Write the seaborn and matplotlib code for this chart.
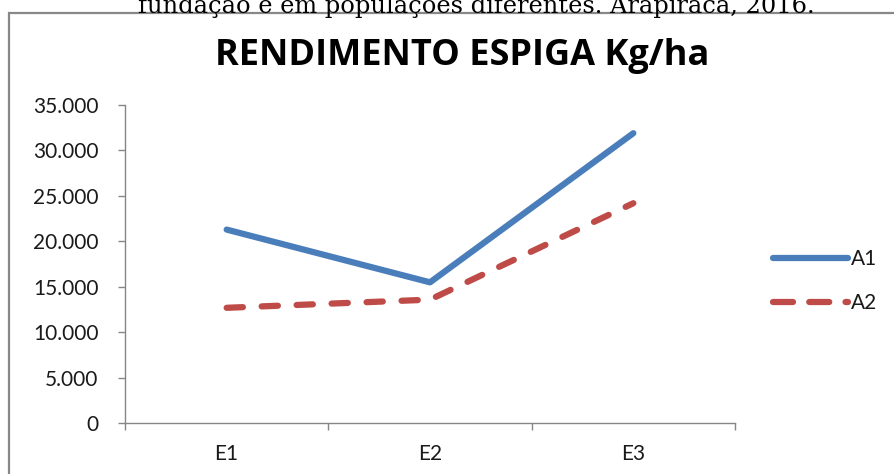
import matplotlib
matplotlib.use("Agg")
import matplotlib.pyplot as plt
from matplotlib.patches import Rectangle
import numpy as np
import pandas as pd
import seaborn as sns

# Ear yield (kg/ha) per treatment level and series
categories = ["E1", "E2", "E3"]
a1_values = [21300, 15500, 31900]
a2_values = [12700, 13600, 24200]
series_names = ["A1", "A2"]
y_ticks = [0, 5000, 10000, 15000, 20000, 25000, 30000, 35000]
y_tick_labels = ["0", "5.000", "10.000", "15.000", "20.000", "25.000", "30.000", "35.000"]

title = "RENDIMENTO ESPIGA Kg/ha"
caption = "fundação e em populações diferentes. Arapiraca, 2016."

df = pd.DataFrame({
    "pos": list(range(len(categories))) * 2,
    "valor": a1_values + a2_values,
    "serie": [series_names[0]] * len(categories) + [series_names[1]] * len(categories),
})

sns.set_theme(style="white")
plt.rcParams["font.family"] = ["Lato", "DejaVu Sans"]

fig = plt.figure(figsize=(8.94, 4.74), dpi=100)
ax = fig.add_axes([125 / 894, 1 - 423.3 / 474, 610 / 894, 318.3 / 474])

palette = {"A1": "#4A7EBB", "A2": "#BE4B48"}
sns.lineplot(
    data=df, x="pos", y="valor", hue="serie", style="serie",
    palette=palette, dashes={"A1": "", "A2": (2.6, 3.0)},
    linewidth=4.5, ax=ax, legend=True,
)
for line in ax.get_lines():
    line.set_solid_capstyle("round")
    line.set_dash_capstyle("round")
    line.set_solid_joinstyle("round")

ax.set_xlim(-0.5, len(categories) - 0.5)
ax.set_ylim(0, 35000)
ax.set_xlabel("")
ax.set_ylabel("")

# category boundaries carry the tick marks, centres carry the labels
ax.set_xticks(np.arange(-0.5, len(categories), 1.0))
ax.set_xticklabels([])
ax.set_xticks(np.arange(len(categories)), minor=True)
ax.set_xticklabels(categories, minor=True)
ax.set_yticks(y_ticks)
ax.set_yticklabels(y_tick_labels)

spine_color = "#868686"
for side in ["top", "right"]:
    ax.spines[side].set_visible(False)
for side in ["left", "bottom"]:
    ax.spines[side].set_color(spine_color)
    ax.spines[side].set_linewidth(1.0)

label_color = "#1a1a1a"
ax.tick_params(axis="x", which="major", direction="out", length=5, width=1.0,
               color=spine_color, bottom=True)
ax.tick_params(axis="x", which="minor", length=0, pad=15, labelsize=15,
               labelcolor=label_color, bottom=True)
ax.tick_params(axis="y", which="major", direction="out", length=5, width=1.0,
               color=spine_color, pad=14, labelsize=15, labelcolor=label_color, left=True)

handles, labels = ax.get_legend_handles_labels()
leg = ax.legend(
    handles, labels, loc="center left", bbox_to_anchor=(773 / 894, 1 - 281 / 474),
    bbox_transform=fig.transFigure, frameon=False, fontsize=15,
    handlelength=3.6, handletextpad=0.15, labelspacing=1.15, borderpad=0, borderaxespad=0,
)
for text in leg.get_texts():
    text.set_color(label_color)
for h in leg.get_lines():
    h.set_linewidth(4.5)
    h.set_solid_capstyle("round")
    h.set_dash_capstyle("round")
leg.get_lines()[1].set_dashes((3.2, 2.6))

fig.text(462 / 894, 1 - 55.5 / 474, title, ha="center", va="center",
         fontsize=26, fontweight="bold", family=["Open Sans", "DejaVu Sans"],
         color="#000000")

fig.text(476 / 894, 1 - 12.5 / 474, caption, ha="center", va="baseline",
         fontsize=17.4, family=["DejaVu Serif"], color="#000000")

fig.add_artist(Rectangle((9 / 894, -0.2), 2.0, (474 - 13) / 474 + 0.2,
                         transform=fig.transFigure, fill=False,
                         edgecolor="#888888", linewidth=1.6))

fig.savefig("out.png", dpi=100)
